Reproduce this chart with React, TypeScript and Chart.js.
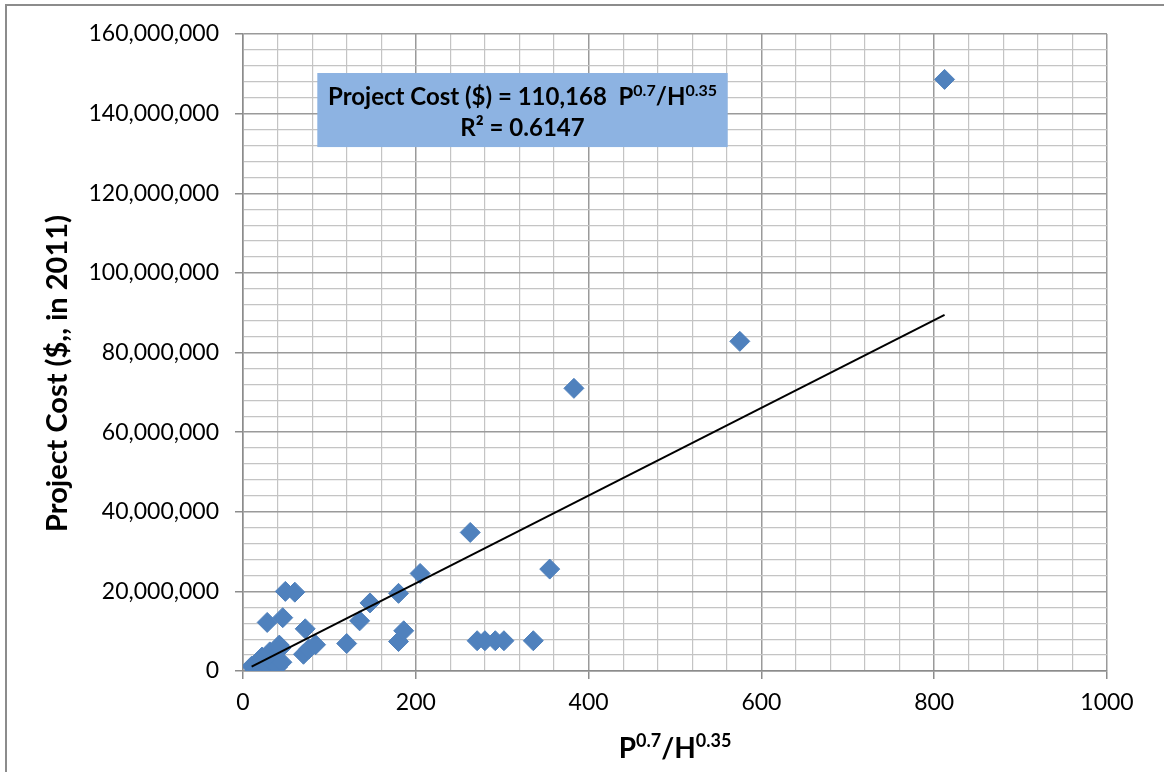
import React, { useEffect, useRef } from "react";
import { Chart, registerables } from "chart.js";

Chart.register(...registerables);

// P^0.7/H^0.35 values (x) and project cost in $ millions (y)
const xValues = [10, 14, 22, 27, 31, 33, 35, 38, 40, 42, 44, 45, 28, 46, 49, 60, 72, 70, 76, 84, 120, 135, 147, 180, 180, 186, 205, 263, 271, 280, 292, 302, 336, 355, 383, 575, 812];
const yMillions = [1.2, 0.3, 3.5, 1.5, 4.8, 2.8, 1.8, 2.5, 1.0, 6.5, 5.8, 2.2, 12.2, 13.4, 20.0, 19.8, 10.6, 4.2, 5.5, 6.6, 6.9, 12.6, 17.1, 19.5, 7.4, 10.1, 24.5, 34.8, 7.6, 7.6, 7.6, 7.6, 7.6, 25.6, 71.0, 82.8, 148.6];

// Trend line (power fit shown in the box): cost = 110,168 * x
const TREND_COEF = 110168;
const trendX = [10, 812];

const xTickLabels = [0, 200, 400, 600, 800, 1000];
const yTickLabels = [0, 20000000, 40000000, 60000000, 80000000, 100000000, 120000000, 140000000, 160000000];

const eqLine1 = "Project Cost ($) = 110,168  ";
const r2Text = "R² = 0.6147";
const yTitle = "Project Cost ($,, in 2011)";

const FONT = "Lato, 'Open Sans', sans-serif";
const MARKER = "#4F81BD";

function drawSup(ctx: CanvasRenderingContext2D, parts: { t: string; sup: boolean }[], cx: number, baseY: number, big: number, small: number, rise: number) {
  let total = 0;
  const widths = parts.map((p) => {
    ctx.font = `bold ${p.sup ? small : big}px ${FONT}`;
    const w = ctx.measureText(p.t).width;
    total += w;
    return w;
  });
  let x = cx - total / 2;
  ctx.textAlign = "left";
  ctx.textBaseline = "alphabetic";
  parts.forEach((p, i) => {
    ctx.font = `bold ${p.sup ? small : big}px ${FONT}`;
    ctx.fillText(p.t, x, p.sup ? baseY - rise : baseY);
    x += widths[i];
  });
}

const decorPlugin = {
  id: "decor",
  beforeDraw(chart: any) {
    const ctx = chart.ctx;
    ctx.save();
    ctx.fillStyle = "#ffffff";
    ctx.fillRect(0, 0, chart.width, chart.height);
    ctx.strokeStyle = "#8c8c8c";
    ctx.lineWidth = 2;
    ctx.beginPath();
    ctx.moveTo(6, chart.height);
    ctx.lineTo(6, 5);
    ctx.lineTo(chart.width, 5);
    ctx.stroke();
    ctx.restore();
  },
  afterDraw(chart: any) {
    const ctx = chart.ctx;
    const xs = chart.scales.x;
    const ys = chart.scales.y;
    const area = chart.chartArea;
    ctx.save();
    ctx.fillStyle = "#000";
    // Y title
    ctx.save();
    ctx.translate(58, (area.top + area.bottom) / 2 + 21);
    ctx.rotate(-Math.PI / 2);
    ctx.font = `bold 29px ${FONT}`;
    ctx.textAlign = "center";
    ctx.textBaseline = "middle";
    ctx.fillText(yTitle, 0, 0);
    ctx.restore();
    // X title
    drawSup(
      ctx,
      [
        { t: "P", sup: false },
        { t: "0.7", sup: true },
        { t: "/H", sup: false },
        { t: "0.35", sup: true },
      ],
      (area.left + area.right) / 2,
      758,
      28,
      18,
      11
    );
    // Equation box
    const bx1 = xs.getPixelForValue(86);
    const bx2 = xs.getPixelForValue(561);
    const by1 = ys.getPixelForValue(150200000);
    const by2 = ys.getPixelForValue(131600000);
    ctx.fillStyle = "#8DB3E2";
    ctx.fillRect(bx1, by1, bx2 - bx1, by2 - by1);
    ctx.fillStyle = "#000";
    const cx = (bx1 + bx2) / 2;
    drawSup(
      ctx,
      [
        { t: eqLine1, sup: false },
        { t: "P", sup: false },
        { t: "0.7", sup: true },
        { t: "/H", sup: false },
        { t: "0.35", sup: true },
      ],
      cx,
      by1 + 32,
      24,
      16,
      9
    );
    ctx.font = `bold 24px ${FONT}`;
    ctx.textAlign = "center";
    ctx.textBaseline = "alphabetic";
    ctx.fillText(r2Text, cx, by1 + 63);
    ctx.restore();
  },
};

export default function App() {
  const ref = useRef<HTMLCanvasElement | null>(null);
  useEffect(() => {
    if (!ref.current) return;
    const points = xValues.map((x, i) => ({ x, y: yMillions[i] * 1000000 }));
    const trend = trendX.map((x) => ({ x, y: TREND_COEF * x }));
    const chart = new Chart(ref.current, {
      type: "scatter",
      data: {
        datasets: [
          {
            type: "line",
            label: "Trend",
            data: trend,
            borderColor: "#000",
            borderWidth: 2,
            pointRadius: 0,
            fill: false,
            order: 0,
          } as any,
          {
            label: "Projects",
            data: points,
            pointStyle: "rectRot",
            pointRadius: 10,
            backgroundColor: MARKER,
            borderColor: MARKER,
            borderWidth: 1,
            order: 1,
          },
        ],
      },
      options: {
        responsive: false,
        animation: false,
        layout: { padding: { left: 0, top: 34, right: 57, bottom: 0 } },
        plugins: { legend: { display: false }, tooltip: { enabled: false } },
        scales: {
          x: {
            type: "linear",
            min: 0,
            max: 1000,
            afterFit: (s: any) => {
              s.height = 101;
            },
            afterBuildTicks: (s: any) => {
              const t = [];
              for (let v = 0; v <= 1000; v += 40) t.push({ value: v });
              s.ticks = t;
            },
            ticks: {
              autoSkip: false,
              maxRotation: 0,
              padding: 10,
              color: "#000",
              font: { family: FONT, size: 23 },
              callback: (v: any) => (xTickLabels.includes(Number(v)) ? String(v) : ""),
            },
            grid: {
              color: (c: any) => (c.tick && c.tick.value % 200 === 0 ? "#9a9a9a" : "#c4c4c4"),
              lineWidth: (c: any) => (c.tick && c.tick.value % 200 === 0 ? 1.5 : 1.2),
              tickColor: (c: any) => (c.tick && c.tick.value % 200 === 0 ? "#8c8c8c" : "rgba(0,0,0,0)"),
              tickLength: 8,
            },
            border: { color: "#8c8c8c", width: 1.5 },
          },
          y: {
            type: "linear",
            min: 0,
            max: 160000000,
            afterFit: (s: any) => {
              s.width = 243;
            },
            afterBuildTicks: (s: any) => {
              const t = [];
              for (let v = 0; v <= 160000000; v += 4000000) t.push({ value: v });
              s.ticks = t;
            },
            ticks: {
              autoSkip: false,
              padding: 16,
              color: "#000",
              font: { family: FONT, size: 23 },
              callback: (v: any) => (yTickLabels.includes(Number(v)) ? Number(v).toLocaleString("en-US") : ""),
            },
            grid: {
              color: (c: any) => (c.tick && c.tick.value % 20000000 === 0 ? "#9a9a9a" : "#c4c4c4"),
              lineWidth: (c: any) => (c.tick && c.tick.value % 20000000 === 0 ? 1.5 : 1.2),
              tickColor: (c: any) => (c.tick && c.tick.value % 20000000 === 0 ? "#8c8c8c" : "rgba(0,0,0,0)"),
              tickLength: 8,
            },
            border: { color: "#8c8c8c", width: 1.5 },
          },
        },
      },
      plugins: [decorPlugin],
    });
    return () => chart.destroy();
  }, []);
  return (
    <div style={{ position: "absolute", left: 0, top: 0, width: 1164, height: 772 }}>
      <canvas ref={ref} width={1164} height={772} style={{ display: "block" }} />
    </div>
  );
}
